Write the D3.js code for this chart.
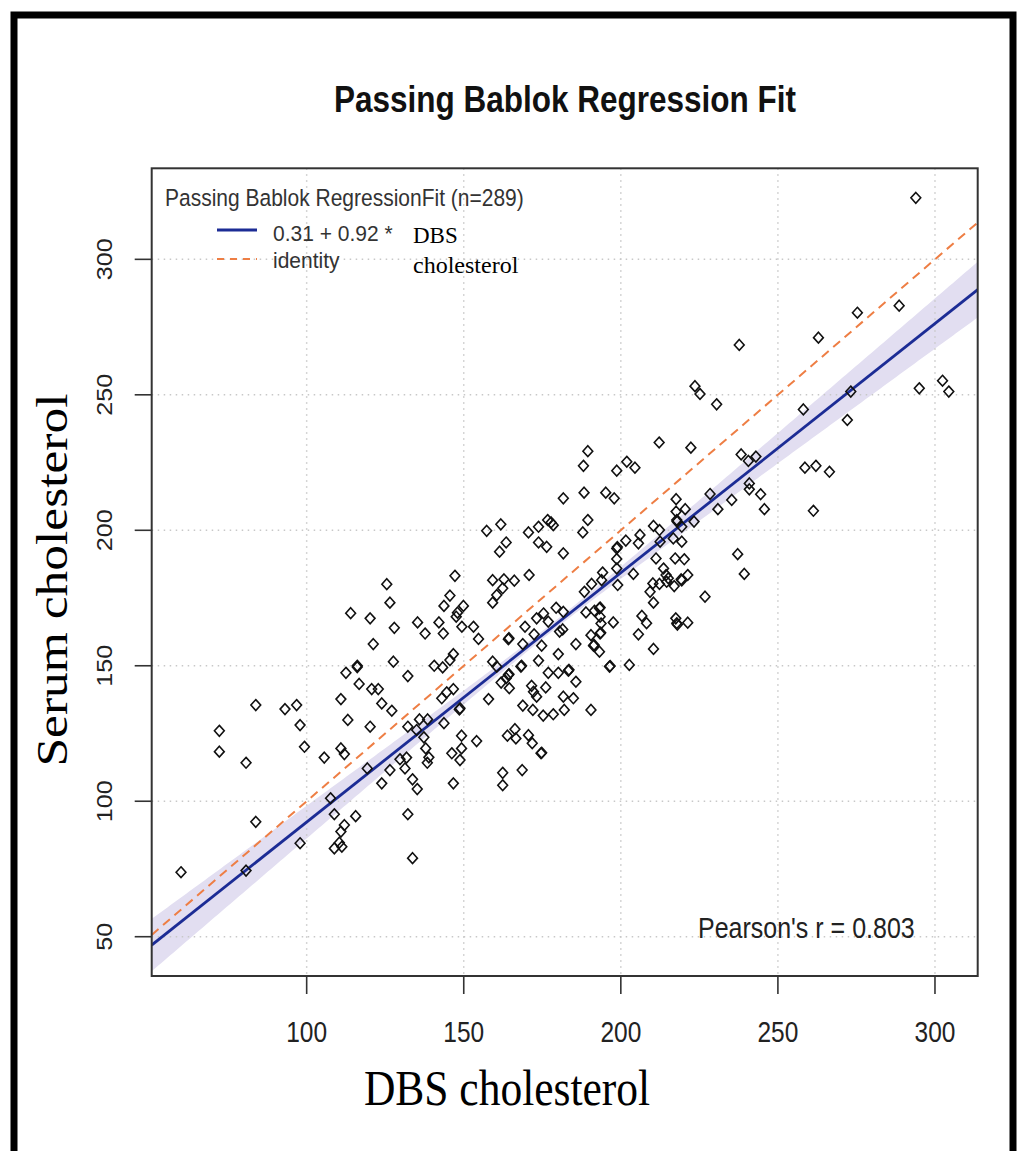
<!DOCTYPE html>
<html>
<head>
<meta charset="utf-8">
<script src="https://cdn.jsdelivr.net/npm/d3@7"></script>
<style>
	body { margin: 0; background: #fff; }
	svg { display: block; }
</style>
</head>
<body>
<svg id="chart" width="1025" height="1151"></svg>
<script>
const dbs = [
	60.0, 72.2, 72.2, 80.7, 83.8, 83.8, 80.7, 93.1, 96.8, 97.9,
	99.3, 97.9, 105.6, 107.6, 108.8, 110.9, 112.0, 110.9, 113.1, 112.0,
	110.9, 110.4, 108.8, 111.2, 115.6, 116.7, 120.7, 122.8, 123.9, 127.1,
	120.2, 119.3, 123.9, 126.5, 129.7, 131.8, 131.3, 133.7, 135.2, 132.2,
	133.7, 132.2, 135.9, 138.5, 135.0, 137.3, 137.9, 138.9, 138.4, 125.5,
	126.5, 114.0, 120.2, 127.9, 135.3, 121.2, 127.6, 116.1, 116.1, 112.5,
	132.2,
	181.7, 188.3, 195.2, 197.9, 217.6, 228.4, 230.9, 220.5, 217.6, 217.8,
	217.9, 223.3, 219.4, 210.4, 212.3, 206.1, 205.6, 212.5, 216.7, 219.4,
	211.2, 217.3, 220.2, 213.6, 214.4, 215.1, 219.2, 219.4, 221.3, 210.2,
	212.3, 214.6, 217.0, 209.3, 210.4, 226.8, 206.7, 208.2, 205.6, 210.4,
	217.5, 217.8, 218.0, 221.3, 202.7, 196.4, 196.6, 190.5, 204.0, 201.6,
	198.7, 198.9, 198.7, 198.7, 199.0, 194.2, 193.9, 190.7, 188.4, 189.5,
	187.9, 181.7, 176.7, 177.8, 178.5, 173.8, 170.6, 173.8, 176.4, 161.8,
	157.3, 163.5, 161.4, 170.8, 159.2, 162.8, 166.1, 162.4, 160.5, 159.2,
	147.2, 145.6, 143.7, 149.9, 148.0, 147.6, 142.1, 137.7, 143.5, 149.4,
	153.1, 154.7, 146.7, 145.6, 140.6, 143.3, 144.6, 143.0, 146.7, 148.6,
	148.8, 143.7, 157.9, 159.2, 160.5, 161.9, 163.5, 164.2, 164.4, 164.5,
	164.2, 164.4, 169.5, 168.8, 168.2, 168.4, 166.3, 171.6, 172.2, 173.2,
	168.8, 172.0, 175.3, 178.5, 182.0, 181.7, 184.9, 176.1, 176.9, 180.1,
	183.3, 183.5, 185.7, 173.8, 180.1, 185.7, 174.8, 172.4, 173.2, 175.4,
	176.9, 179.4, 181.7, 180.5, 181.5, 188.9, 191.6, 193.2, 193.4, 193.4,
	193.7, 197.6, 190.5, 193.4, 193.6, 191.3, 191.5, 193.2,
	223.6, 225.2, 230.5, 212.2, 222.3, 189.5, 188.1, 201.9, 204.5, 198.7,
	293.9, 288.6, 275.3, 262.9, 237.7, 258.1, 273.2, 272.1, 295.0, 302.4,
	304.4, 149.3, 154.1, 146.2, 149.3, 148.8, 146.7, 163.9, 166.6, 170.6,
	171.8, 174.6, 174.8, 162.4, 162.4, 168.6, 238.3, 240.6, 243.0, 258.6,
	262.1, 266.4, 261.3, 235.3, 240.9, 240.9, 244.5, 245.7, 237.2, 239.3
];
const serum = [
	73.8, 126.0, 118.3, 114.2, 135.5, 92.4, 74.4, 134.0, 135.5, 128.1,
	120.1, 84.5, 116.1, 101.1, 95.2, 119.5, 117.4, 137.7, 130.0, 91.2,
	88.8, 84.7, 82.6, 83.2, 94.5, 143.3, 141.4, 141.4, 136.1, 133.4,
	127.5, 112.1, 106.6, 111.5, 115.5, 116.1, 112.1, 108.1, 104.5, 95.2,
	79.0, 127.5, 130.2, 130.2, 126.3, 123.6, 119.5, 116.2, 114.2, 180.1,
	173.3, 169.4, 167.5, 164.0, 166.0, 158.0, 151.5, 150.0, 149.5, 147.4,
	146.2,
	211.8, 213.9, 213.9, 211.8, 211.5, 213.4, 207.8, 207.8, 206.9, 203.8,
	203.2, 203.2, 201.3, 201.6, 200.1, 198.3, 195.2, 195.8, 197.0, 195.8,
	189.6, 189.6, 189.3, 185.9, 183.5, 182.3, 181.9, 181.5, 183.5, 180.4,
	180.2, 181.0, 179.4, 177.3, 173.3, 175.5, 168.4, 165.7, 161.6, 156.2,
	167.5, 165.7, 165.2, 165.9, 150.3, 149.7, 149.9, 133.7, 183.9, 196.2,
	193.3, 193.8, 189.4, 185.9, 179.8, 184.4, 181.6, 180.2, 177.3, 203.8,
	199.2, 191.5, 203.8, 202.9, 201.9, 201.3, 199.2, 195.5, 193.9, 202.2,
	199.8, 195.5, 192.1, 183.5, 181.6, 181.9, 181.4, 178.6, 176.1, 173.3,
	183.2, 175.9, 172.1, 172.1, 169.6, 168.1, 166.0, 161.9, 161.9, 164.4,
	164.4, 159.9, 154.3, 152.1, 150.0, 149.4, 140.2, 138.0, 141.4, 133.9,
	134.3, 128.8, 137.7, 151.5, 149.7, 143.8, 145.4, 146.6, 146.9, 141.7,
	159.8, 160.2, 164.4, 158.0, 149.7, 150.0, 126.6, 142.6, 140.4, 138.6,
	135.3, 133.7, 131.6, 132.1, 133.7, 138.6, 138.0, 142.0, 147.4, 147.4,
	148.2, 148.5, 144.1, 151.9, 154.3, 158.0, 157.4, 161.6, 167.5, 169.3,
	166.3, 171.4, 169.9, 162.6, 163.4, 169.7, 170.3, 171.2, 171.5, 168.1,
	165.6, 166.0, 161.3, 161.9, 162.2, 157.4, 157.7, 155.2,
	253.2, 250.3, 246.5, 232.4, 230.5, 229.2, 223.8, 225.3, 223.1, 222.0,
	322.7, 282.9, 280.3, 271.1, 268.4, 244.6, 251.2, 240.7, 252.4, 255.2,
	251.2, 124.2, 122.2, 117.7, 119.5, 115.2, 106.6, 124.2, 123.2, 124.4,
	121.4, 117.7, 117.9, 110.5, 105.9, 111.5, 228.0, 225.6, 227.2, 223.1,
	223.8, 221.6, 207.2, 211.2, 217.3, 215.1, 213.3, 207.8, 191.2, 183.9
];

// Fit shown in the legend, plus the width of its confidence band
const fitCoef = [0.31, 0.92];
const bandParams = [1.5, 0.075, 178]; // half width at centre, growth per unit, centre

const xTicks = [100, 150, 200, 250, 300];
const yTicks = [50, 100, 150, 200, 250, 300];

const legendTitle = 'Passing Bablok RegressionFit (n=289)';
const legendFit = '0.31 + 0.92 *';
const pearsonText = "Pearson's r = 0.803";

const box = {left: 151.7, right: 977.7, top: 168.3, bottom: 976};
const stretch = 1.17; // the source picture is a little taller than it is wide

const svg = d3.select('#chart');

// outer frame
svg.append('rect')
	.attr('x', 14).attr('y', 15)
	.attr('width', 999).attr('height', 1170)
	.attr('fill', 'none').attr('stroke', '#000').attr('stroke-width', 7);

const x = d3.scaleLinear().domain([50.67, 313.6]).range([box.left, box.right]);
const y = d3.scaleLinear().domain([35.5, 333.6]).range([box.bottom, box.top]);

svg.append('clipPath').attr('id', 'clip')
	.append('rect')
	.attr('x', box.left).attr('y', box.top)
	.attr('width', box.right - box.left).attr('height', box.bottom - box.top);

const fit = (v) => fitCoef[0] + fitCoef[1] * v;
const halfWidth = (v) => Math.sqrt(bandParams[0] ** 2 + (bandParams[1] * (v - bandParams[2])) ** 2);

const plot = svg.append('g').attr('clip-path', 'url(#clip)');

// confidence band
const bandX = d3.range(x.domain()[0], x.domain()[1] + 1, 1);
plot.append('path')
	.datum(bandX)
	.attr('fill', '#e2def1')
	.attr('d', d3.area()
		.x((d) => x(d))
		.y0((d) => y(fit(d) - halfWidth(d)))
		.y1((d) => y(fit(d) + halfWidth(d))));

// dotted grid
plot.selectAll('.vgrid').data(xTicks).enter().append('line')
	.attr('x1', (d) => x(d)).attr('x2', (d) => x(d))
	.attr('y1', box.top).attr('y2', box.bottom)
	.attr('stroke', '#c8c8c8').attr('stroke-width', 1.5).attr('stroke-dasharray', '1.5,4.5');
plot.selectAll('.hgrid').data(yTicks).enter().append('line')
	.attr('y1', (d) => y(d)).attr('y2', (d) => y(d))
	.attr('x1', box.left).attr('x2', box.right)
	.attr('stroke', '#c8c8c8').attr('stroke-width', 1.5).attr('stroke-dasharray', '1.5,4.5');

// identity line
const dom = x.domain();
plot.append('line')
	.attr('x1', x(dom[0])).attr('y1', y(dom[0]))
	.attr('x2', x(dom[1])).attr('y2', y(dom[1]))
	.attr('stroke', '#ee7e44').attr('stroke-width', 2).attr('stroke-dasharray', '9,6');

// regression line
plot.append('line')
	.attr('x1', x(dom[0])).attr('y1', y(fit(dom[0])))
	.attr('x2', x(dom[1])).attr('y2', y(fit(dom[1])))
	.attr('stroke', '#1c2c95').attr('stroke-width', 2.8);

// open diamonds
const diamond = 'M0,-5.4L4.9,0L0,5.4L-4.9,0Z';
plot.selectAll('.pt')
	.data(dbs.map((d, i) => [d, serum[i]]))
	.enter()
	.append('path')
	.attr('class', 'pt')
	.attr('d', diamond)
	.attr('transform', (d) => `translate(${x(d[0])},${y(d[1])})`)
	.attr('fill', 'none')
	.attr('stroke', '#111')
	.attr('stroke-width', 1.6);

// box
svg.append('rect')
	.attr('x', box.left).attr('y', box.top)
	.attr('width', box.right - box.left).attr('height', box.bottom - box.top)
	.attr('fill', 'none').attr('stroke', '#333').attr('stroke-width', 2);

// axes, R style: ticks outside the box
svg.selectAll('.xtick').data(xTicks).enter().append('line')
	.attr('x1', (d) => x(d)).attr('x2', (d) => x(d))
	.attr('y1', box.bottom).attr('y2', box.bottom + 18)
	.attr('stroke', '#333').attr('stroke-width', 1.6);
svg.selectAll('.ytick').data(yTicks).enter().append('line')
	.attr('y1', (d) => y(d)).attr('y2', (d) => y(d))
	.attr('x1', box.left - 17).attr('x2', box.left)
	.attr('stroke', '#333').attr('stroke-width', 1.6);

const sans = 'Liberation Sans, Arial, sans-serif';
const serif = 'Liberation Serif, Times New Roman, serif';

svg.selectAll('.xlab').data(xTicks).enter().append('text')
	.attr('transform', (d) => `translate(${x(d)},1042) scale(1,1.2)`)
	.attr('text-anchor', 'middle')
	.attr('font-family', sans).attr('font-size', 24.5).attr('fill', '#222')
	.text((d) => d);
svg.selectAll('.ylab').data(yTicks).enter().append('text')
	.attr('transform', (d) => `translate(112,${y(d)}) scale(1,${stretch}) rotate(-90)`)
	.attr('text-anchor', 'middle')
	.attr('font-family', sans).attr('font-size', 21.5).attr('fill', '#222')
	.text((d) => d);

// titles
svg.append('text')
	.attr('transform', `translate(565,112) scale(1,${stretch})`)
	.attr('text-anchor', 'middle')
	.attr('font-family', sans).attr('font-weight', 'bold').attr('font-size', 31.5).attr('fill', '#111')
	.text('Passing Bablok Regression Fit');
svg.append('text')
	.attr('transform', `translate(507,1105) scale(1,${stretch})`)
	.attr('text-anchor', 'middle')
	.attr('font-family', serif).attr('font-size', 43.5).attr('fill', '#000')
	.text('DBS cholesterol');
svg.append('text')
	.attr('transform', `translate(67,580) scale(1,${stretch}) rotate(-90)`)
	.attr('text-anchor', 'middle')
	.attr('font-family', serif).attr('font-size', 44).attr('fill', '#000')
	.text('Serum cholesterol');

// legend
svg.append('text')
	.attr('transform', `translate(165,206) scale(1,${stretch})`)
	.attr('font-family', sans).attr('font-size', 21).attr('fill', '#333')
	.text(legendTitle);
svg.append('line')
	.attr('x1', 217).attr('x2', 257).attr('y1', 230).attr('y2', 230)
	.attr('stroke', '#1c2c95').attr('stroke-width', 2.8);
svg.append('line')
	.attr('x1', 217).attr('x2', 257).attr('y1', 259).attr('y2', 259)
	.attr('stroke', '#ee7e44').attr('stroke-width', 2).attr('stroke-dasharray', '7,6');
svg.append('text')
	.attr('transform', 'translate(273,241) scale(1,1.05)')
	.attr('font-family', sans).attr('font-size', 21).attr('fill', '#333')
	.text(legendFit);
svg.append('text')
	.attr('transform', 'translate(273,268) scale(1,1.05)')
	.attr('font-family', sans).attr('font-size', 21).attr('fill', '#333')
	.text('identity');
svg.append('text')
	.attr('x', 413).attr('y', 243)
	.attr('font-family', serif).attr('font-size', 23).attr('fill', '#000')
	.text('DBS');
svg.append('text')
	.attr('x', 413).attr('y', 273)
	.attr('font-family', serif).attr('font-size', 24).attr('fill', '#000')
	.text('cholesterol');

svg.append('text')
	.attr('transform', 'translate(698,938) scale(1,1.2)')
	.attr('font-family', sans).attr('font-size', 25).attr('fill', '#222')
	.text(pearsonText);
</script>
</body>
</html>
